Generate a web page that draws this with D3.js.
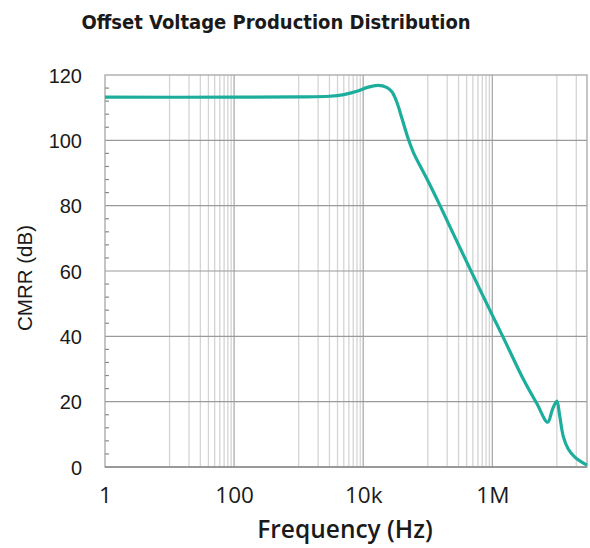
<!DOCTYPE html>
<html>
<head>
<meta charset="utf-8">
<script src="https://cdn.jsdelivr.net/npm/d3@7"></script>
<style>
  html, body { margin: 0; padding: 0; background: #fff; }
</style>
</head>
<body>
<svg id="chart" width="590" height="548"></svg>
<script>
// data
const freq = [1, 100, 1000, 3000, 5000, 8000, 12000, 17000, 23000, 28000, 33000, 40000, 50000,
              62000, 80000, 100000, 155000, 250000, 463000, 1000000, 1450000, 3000000, 4870000,
              7200000, 8500000, 10000000, 11000000, 12600000, 15000000, 19000000, 23000000, 29300000];
const cmrr = [113.2, 113.2, 113.3, 113.5, 114, 115, 116.3, 116.8, 116.2, 114.8, 111.8, 106.6, 100.4,
              95.6, 91.4, 87.7, 80, 71.3, 60.2, 46.5, 40, 27, 19.5,
              13.7, 17.5, 20.2, 16, 9.3, 5.5, 3, 1.8, 0.6];

const xTicks = [1, 100, 1e4, 1e6];
const xTickLabels = ["1", "100", "10k", "1M"];
const yTicks = [0, 20, 40, 60, 80, 100, 120];
const xDomain = [1, 2.93e7];
const yDomain = [0, 120];

const svg = d3.select("#chart");
const plot = {left: 105, right: 587, top: 75, bottom: 467};

const x = d3.scaleLog().domain(xDomain).range([plot.left, plot.right]);
const y = d3.scaleLinear().domain(yDomain).range([plot.bottom, plot.top]);

// minor vertical grid: 1..9 x 10^odd
const minor = [];
[1, 3, 5, 7].forEach(e => {
    for (let k = 1; k <= 9; k++) {
        const v = k * Math.pow(10, e);
        if (v < xDomain[1]) minor.push(v);
    }
});

const grid = svg.append("g");
grid.selectAll(".minor")
    .data(minor)
    .join("line")
    .attr("x1", d => x(d)).attr("x2", d => x(d))
    .attr("y1", plot.top).attr("y2", plot.bottom)
    .attr("stroke", "#d4d4d4").attr("stroke-width", 1.3);

grid.selectAll(".major")
    .data(xTicks.slice(1))
    .join("line")
    .attr("x1", d => x(d)).attr("x2", d => x(d))
    .attr("y1", plot.top).attr("y2", plot.bottom)
    .attr("stroke", "#ababab").attr("stroke-width", 1.3);

grid.selectAll(".hgrid")
    .data(yTicks.slice(1, -1))
    .join("line")
    .attr("x1", plot.left).attr("x2", plot.right)
    .attr("y1", d => y(d)).attr("y2", d => y(d))
    .attr("stroke", "#9a9a9a").attr("stroke-width", 1.2);

// plot frame
svg.append("rect")
    .attr("x", plot.left).attr("y", plot.top)
    .attr("width", plot.right - plot.left).attr("height", plot.bottom - plot.top)
    .attr("fill", "none").attr("stroke", "#a6a6a6").attr("stroke-width", 1.3);
svg.append("line")
    .attr("x1", plot.left).attr("x2", plot.right)
    .attr("y1", plot.bottom).attr("y2", plot.bottom)
    .attr("stroke", "#8a8a8a").attr("stroke-width", 1.5);

// minor y ticks every 4 dB, pointing inward
svg.append("g")
    .selectAll("line")
    .data(d3.range(4, 120, 4).filter(v => v % 20 !== 0))
    .join("line")
    .attr("x1", plot.left).attr("x2", plot.left + 4)
    .attr("y1", d => y(d)).attr("y2", d => y(d))
    .attr("stroke", "#8a8a8a").attr("stroke-width", 1.2);

// axes labels
const yAxis = svg.append("g")
    .attr("transform", `translate(${plot.left},0)`)
    .call(d3.axisLeft(y).tickValues(yTicks).tickSize(0).tickPadding(23));
yAxis.select(".domain").remove();
yAxis.selectAll("text")
    .attr("font-family", "'Liberation Sans', Arial, sans-serif")
    .attr("font-size", 20)
    .attr("fill", "#1a1a1a")
    .attr("dy", "0.36em");

const xAxis = svg.append("g")
    .attr("transform", `translate(0,${plot.bottom})`)
    .call(d3.axisBottom(x).tickValues(xTicks).tickSize(0).tickPadding(0)
        .tickFormat((d, i) => xTickLabels[i]));
xAxis.select(".domain").remove();
xAxis.selectAll("text")
    .attr("font-family", "'Open Sans', sans-serif")
    .attr("font-size", 22.5)
    .attr("fill", "#1a1a1a")
    .attr("y", 36)
    .attr("dy", 0);

// curve
const pts = freq.map((f, i) => [f, cmrr[i]]);
svg.append("path")
    .datum(pts)
    .attr("fill", "none")
    .attr("stroke", "#1cad9d")
    .attr("stroke-width", 3.2)
    .attr("stroke-linejoin", "round")
    .attr("d", d3.line().x(d => x(d[0])).y(d => y(d[1])).curve(d3.curveCatmullRom.alpha(0.5)));

// title and axis titles
svg.append("text")
    .attr("x", 276).attr("y", 29)
    .attr("text-anchor", "middle")
    .attr("font-family", "'DejaVu Sans Condensed', 'DejaVu Sans', sans-serif")
    .attr("font-weight", "bold")
    .attr("font-size", 20)
    .attr("fill", "#1a1a1a")
    .text("Offset Voltage Production Distribution");

svg.append("text")
    .attr("x", 345).attr("y", 538)
    .attr("text-anchor", "middle")
    .attr("font-family", "'Open Sans', sans-serif")
    .attr("font-weight", 600)
    .attr("font-size", 24.5)
    .attr("fill", "#1a1a1a")
    .text("Frequency (Hz)");

svg.append("text")
    .attr("transform", "translate(32,278) rotate(-90)")
    .attr("text-anchor", "middle")
    .attr("font-family", "'Liberation Sans', Arial, sans-serif")
    .attr("font-size", 20.5)
    .attr("fill", "#1a1a1a")
    .text("CMRR (dB)");
</script>
</body>
</html>
